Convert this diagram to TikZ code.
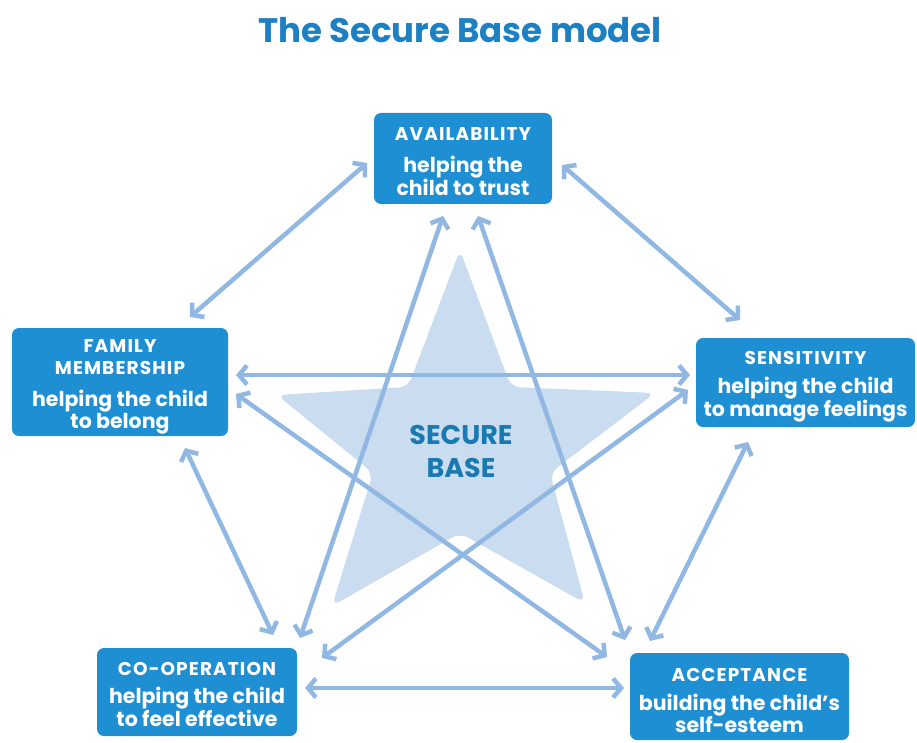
\documentclass[tikz,border=0pt]{standalone}
\usepackage{fontspec}
\setmainfont{Poppins}
\newfontfamily\hdfont[LetterSpace=6]{Poppins}
\usetikzlibrary{arrows.meta}
\definecolor{boxblue}{HTML}{1E8FD2}
\definecolor{arrowblue}{HTML}{90B8E3}
\definecolor{starblue}{HTML}{CADCF0}
\definecolor{titleblue}{HTML}{1C80C3}
\tikzset{
  box/.style={draw=none, fill=boxblue, rounded corners=7pt, text=white, align=center,
    font=\bfseries\fontsize{20.5}{22}\selectfont, inner sep=0pt},
  arr/.style={draw=arrowblue, line width=4.5pt, {Straight Barb[length=8pt,width=19pt]}-{Straight Barb[length=8pt,width=19pt]}}
}
\newcommand{\hd}[1]{{\hdfont\bfseries\fontsize{18.5}{20}\selectfont #1}}
\newcommand{\up}[1]{\rule{0pt}{#1}}
\begin{document}
\begin{tikzpicture}[x=1pt,y=-1pt]
\useasboundingbox (0,0) rectangle (917,743);
% title
\node[text=titleblue, font=\bfseries\fontsize{34}{40}\selectfont] (title) at (460,30) {The Secure Base model};
% star
\fill[starblue, rounded corners=9pt] (460,250) -- (511,387) -- (655,393) -- (550,473) -- (585,603) -- (460,533) -- (332,606) -- (373,473) -- (277,395) -- (408,387) -- cycle;
\node[text=boxblue!85!black, align=center, font=\bfseries\fontsize{27}{33}\selectfont] (sb) at (461,451) {SECURE\\BASE};
% boxes
\node[box, minimum width=178pt, minimum height=91pt] (avail) at (463,158.5) {\hd{\up{19pt}AVAILABILITY}\\[10pt]helping the\\child to trust};
\node[box, minimum width=216pt, minimum height=108pt] (family) at (120,382) {\hd{\up{23pt}FAMILY}\\\hd{MEMBERSHIP}\\[10pt]helping the child\\to belong};
\node[box, minimum width=219pt, minimum height=89pt] (sens) at (805.5,382.5) {\hd{\up{21pt}SENSITIVITY}\\[7pt]helping the child\\to manage feelings};
\node[box, minimum width=200pt, minimum height=88pt] (coop) at (197,692) {\hd{\up{19pt}CO-OPERATION}\\[6pt]helping the child\\to feel effective};
\node[box, minimum width=219pt, minimum height=87pt] (accept) at (739.5,696.5) {\hd{\up{21pt}ACCEPTANCE}\\[7pt]building the child's\\self-esteem};
% arrows
\draw[arr] ([shift={(-96,4.5)}]avail.center) -- ([shift={(70,-65)}]family.center);
\draw[arr] ([shift={(99,6.5)}]avail.center) -- ([shift={(-65.5,-62.5)}]sens.center);
\draw[arr] ([shift={(116,-7)}]family.center) -- ([shift={(-115.5,-7.5)}]sens.center);
\draw[arr] ([shift={(116,12)}]family.center) -- ([shift={(-132.5,-39.5)}]accept.center);
\draw[arr] ([shift={(65,66)}]family.center) -- ([shift={(76,-57)}]coop.center);
\draw[arr] ([shift={(-117.5,7.5)}]sens.center) -- ([shift={(125,-34)}]coop.center);
\draw[arr] ([shift={(-57.5,59.5)}]sens.center) -- ([shift={(-89.5,-55.5)}]accept.center);
\draw[arr] ([shift={(108,-4)}]coop.center) -- ([shift={(-115.5,-8.5)}]accept.center);
\draw[arr] ([shift={(-20,57.5)}]avail.center) -- ([shift={(103,-54)}]coop.center);
\draw[arr] ([shift={(15,57.5)}]avail.center) -- ([shift={(-114.5,-56.5)}]accept.center);
\end{tikzpicture}
\end{document}
